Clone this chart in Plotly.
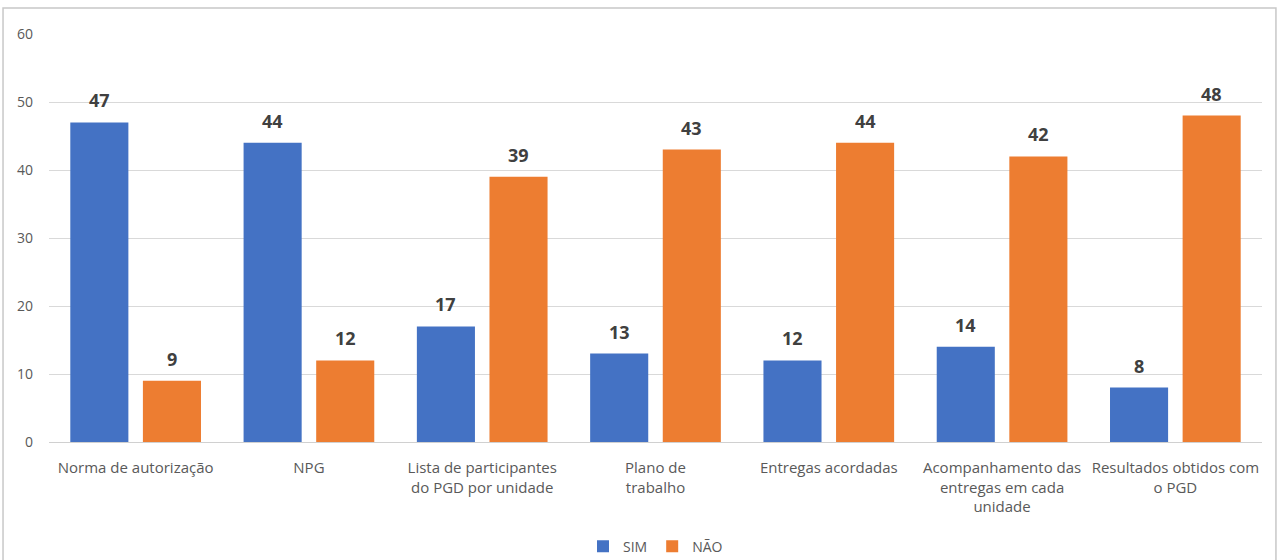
import plotly.graph_objects as go

categories = [
    "Norma de autorização",
    "NPG",
    "Lista de participantes<br>do PGD por unidade",
    "Plano de<br>trabalho",
    "Entregas acordadas",
    "Acompanhamento das<br>entregas em cada<br>unidade",
    "Resultados obtidos com<br>o PGD",
]
sim = [47, 44, 17, 13, 12, 14, 8]
nao = [9, 12, 39, 43, 44, 42, 48]

FONT = "Open Sans"
L, R, T, B = 49, 20, 34, 118
W, H = 1282, 560
plot_w = W - L - R
cat_w = plot_w / len(categories)
bargap = 0.162
slot = cat_w * (1 - bargap) / 2

fig = go.Figure()
fig.add_trace(go.Bar(name="SIM", x=categories, y=sim, marker_color="#4472C4",
                     marker_line_width=0))
fig.add_trace(go.Bar(name="NÃO", x=categories, y=nao, marker_color="#ED7D31",
                     marker_line_width=0))

annotations = []
for vals, sh in ((sim, -slot / 2), (nao, slot / 2)):
    for c, v in zip(categories, vals):
        annotations.append(dict(x=c, y=v, xref="x", yref="y", text=str(v),
                                showarrow=False, xshift=sh, yshift=8, yanchor="bottom",
                                font=dict(family=FONT, size=18, color="#404040", weight="bold")))

fig.update_layout(
    width=W, height=H,
    margin=dict(l=L, r=R, t=T, b=B, autoexpand=False),
    paper_bgcolor="white", plot_bgcolor="white",
    barmode="group", bargap=bargap, bargroupgap=0.2,
    font=dict(family=FONT, size=15, color="#595959"),
    showlegend=True,
    legend=dict(orientation="h", x=0.5, xanchor="center", y=-0.2564, yanchor="middle",
                font=dict(size=14, color="#595959"), traceorder="normal",
                itemwidth=30, tracegroupgap=0),
    xaxis=dict(showline=True, linecolor="#d0d0d0", ticks="", tickfont=dict(size=15, color="#595959"),
               tickangle=0, ticklabelstandoff=12, automargin=False),
    yaxis=dict(range=[0, 60], dtick=10, showgrid=True, gridcolor="#d9d9d9", zeroline=False,
               tickfont=dict(size=14, color="#595959"), ticklabelstandoff=15, automargin=False),
    annotations=annotations,
    shapes=[dict(type="rect", xref="paper", yref="paper",
                 x0=-0.0379, x1=1.0115, y0=-0.2957, y1=1.0638,
                 line=dict(color="#c8c8c8", width=1.5), fillcolor="rgba(0,0,0,0)", layer="below")],
)

fig.write_html("out.html")
